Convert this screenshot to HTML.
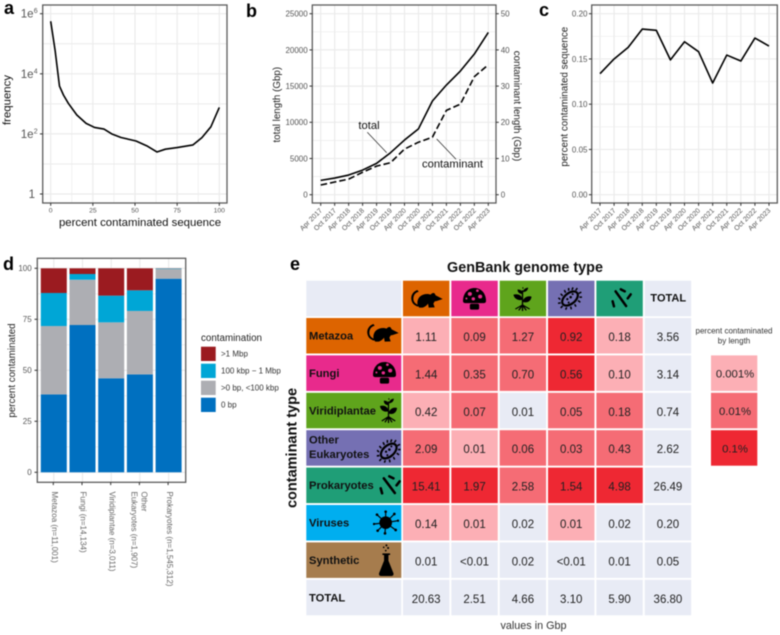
<!DOCTYPE html>
<html lang="en">
<head>
<meta charset="utf-8">
<title>Contamination in GenBank genomes</title>
<style>
html,body{margin:0;padding:0;background:#fff;width:780px;height:635px;overflow:hidden}
svg{display:block;font-family:"Liberation Sans",Arial,sans-serif;filter:blur(.4px)}
</style>
</head>
<body>
<svg id="figure" xmlns="http://www.w3.org/2000/svg" width="780" height="635" viewBox="0 0 780 635">
<defs>
<symbol id="icon-mouse" viewBox="0 0 96 57" preserveAspectRatio="none">
<path d="M20 3C6 8 0 20 2 32C4 44 12 50 22 53L24 48C14 45 8 38 8 30C8 18 14 11 24 8Z"/>
<path d="M20 42C20 24 34 14 52 15L60 17C62 12 70 10 72 14L75 19L96 30L78 36L72 37L68 44L72 55L54 56L52 44C48 50 42 54 36 56L26 56C22 52 20 48 20 42Z"/>
</symbol>
<symbol id="icon-mushroom" viewBox="0 0 67 67" preserveAspectRatio="none">
<path d="M0 40C0 15 15 0 33.5 0C52 0 67 15 67 40C67 44 64 46 60 46L7 46C3 46 0 44 0 40Z"/>
<rect x="20" y="48" width="27" height="18" rx="5"/>
<g fill="#e82a8c" class="dots"><circle cx="20" cy="18" r="6"/><circle cx="42" cy="8" r="4"/><circle cx="50" cy="26" r="6"/><circle cx="30" cy="33" r="5"/><circle cx="10" cy="32" r="3"/></g>
</symbol>
<symbol id="icon-plant" viewBox="0 0 48 75" preserveAspectRatio="none">
<path d="M24 40C12 44 1 36 0 24C12 20 23 26 24 40Z"/>
<path d="M24 46C26 34 38 26 48 30C47 44 36 52 24 46Z"/>
<path d="M24 22C15 22 10 15 11 8C19 7 25 13 24 22Z"/>
<path d="M25 16C26 8 31 3 39 2C39 10 33 16 25 16Z"/>
<path d="M25 6C23 4 23 2 25 0C27 2 28 4 25 6Z"/>
<path d="M24 10V56M24 56L5 69M24 56L14 73M24 56V75M24 56L34 73M24 56L43 69" fill="none" stroke="#000" stroke-width="3.6"/>
</symbol>
<symbol id="icon-microbe" viewBox="0 0 72 68" preserveAspectRatio="none">
<ellipse cx="36" cy="34" rx="27" ry="16" transform="rotate(-38 36 34)" fill="none" stroke="#000" stroke-width="6.5"/>
<circle cx="28" cy="36" r="3.4"/><circle cx="38" cy="30" r="3.8"/><circle cx="44" cy="21" r="3"/><circle cx="32" cy="46" r="3"/>
<path d="M42 9L45 1M53 10L58 3M62 19L70 15M64 30L72 30M60 40L67 45M50 51L54 58M38 58L40 66M26 60L23 67M14 56L8 62M8 47L0 48M7 37L1 32M14 26L8 20M23 17L19 9M32 11L32 3" stroke="#000" stroke-width="4.5" fill="none"/>
</symbol>
<symbol id="icon-bacteria" viewBox="0 0 64 60" preserveAspectRatio="none">
<path d="M14 10L46 54M30 4L42 10M51 31L60 19M5 40L9 55" stroke="#000" stroke-width="7.5" stroke-linecap="round" fill="none"/>
</symbol>
<symbol id="icon-virus" viewBox="0 0 78 75" preserveAspectRatio="none">
<circle cx="38" cy="38" r="19"/>
<path d="M38 38L38 5M38 38L64 12M38 38L75 32M38 38L68 60M38 38L36 70M38 38L14 62M38 38L3 42M38 38L12 14" stroke="#000" stroke-width="3.4" fill="none"/>
<circle cx="38" cy="5" r="4"/><circle cx="64" cy="12" r="4"/><circle cx="75" cy="32" r="3.5"/><circle cx="68" cy="60" r="4"/><circle cx="36" cy="70" r="4"/><circle cx="14" cy="62" r="4"/><circle cx="3" cy="42" r="3.5"/><circle cx="12" cy="14" r="4"/>
</symbol>
<symbol id="icon-flask" viewBox="0 0 43 96" preserveAspectRatio="none">
<circle cx="22" cy="4" r="3"/><circle cx="14" cy="10" r="2.5"/><circle cx="27" cy="12" r="3"/><circle cx="20" cy="20" r="2.6"/>
<rect x="10" y="28" width="23" height="5" rx="1.5"/>
<path d="M15 33H28V50L43 88C44 93 41 96 37 96H6C2 96 -1 93 0 88L15 50Z"/>
</symbol>
</defs>

<g id="panel-a"></g>
<g id="panel-b"></g>
<g id="panel-c"></g>
<g id="panel-d"></g>
<g id="panel-e"></g>

<g font-size="18" font-weight="bold" fill="#000">
<text x="4" y="14">a</text>
<text x="246" y="17">b</text>
<text x="539" y="16">c</text>
<text x="3" y="270">d</text>
<text x="290" y="270">e</text>
</g>

<g>
<use href="#icon-mouse" x="410.7" y="289" width="32" height="19"/>
<use href="#icon-mushroom" x="463" y="288" width="23" height="22"/>
<use href="#icon-plant" x="513.5" y="287" width="18" height="24"/>
<use href="#icon-microbe" x="558" y="287" width="24" height="23"/>
<use href="#icon-bacteria" x="611" y="288" width="21" height="20"/>
<use href="#icon-mouse" x="366.7" y="323" width="32" height="19"/>
<use href="#icon-mushroom" x="373" y="362" width="23" height="22"/>
<use href="#icon-plant" x="380" y="398" width="17" height="25"/>
<use href="#icon-microbe" x="376.7" y="439" width="24" height="24"/>
<use href="#icon-bacteria" x="379" y="475" width="22" height="20"/>
<use href="#icon-virus" x="373" y="510" width="26" height="25"/>
<use href="#icon-flask" x="379" y="544" width="14.5" height="32"/>
</g>
</svg>

<script>
// ---- panel a data ----
const aPercent = [0,2.6,5.2,7.6,10.5,15.5,21,26,31.6,36.5,41.7,50.6,57,63,68,75,84.4,89.7,95,100];
const aFrequency = [562000,61000,3900,1950,1030,425,224,164,145,98,76,58,40,25,31,35,43,75,172,760];
const aXTicks = [0,25,50,75,100];
const aYTickExponents = [0,2,4,6];

// ---- panels b, c data ----
const dateLabels = ["Apr 2017","Oct 2017","Apr 2018","Oct 2018","Apr 2019","Oct 2019","Apr 2020","Oct 2020","Apr 2021","Oct 2021","Apr 2022","Oct 2022","Apr 2023"];
const bTotal = [1980,2300,2715,3400,4330,5800,7550,9100,12940,15150,17080,19430,22420];
const bContaminant = [2.67,3.5,4.3,6.2,7.9,8.84,12.6,14.5,15.9,23.3,25,32.6,35.9];
const bLeftTicks = [0,5000,10000,15000,20000,25000];
const bRightTicks = [0,10,20,30,40,50];
const cPercent = [0.1337,0.150,0.1628,0.183,0.1816,0.149,0.169,0.158,0.1234,0.1543,0.1477,0.1731,0.1643];
const cTicks = [0,0.05,0.10,0.15,0.20];

// ---- panel d data ----
const dCategories = [["Metazoa (n=11,001)"],["Fungi (n=14,134)"],["Viridiplantae (n=3,011)"],["Other","Eukaryotes (n=1,907)"],["Prokaryotes (n=1,545,312)"]];
const dSeriesNames = ["0 bp",">0 bp, <100 kbp","100 kbp − 1 Mbp",">1 Mbp"];
const d0bp = [38.2,72.2,46.1,48,94.9];
const dUnder100k = [33.5,22.2,27.4,31.1,4.8];
const d100kTo1M = [16.2,2.8,13.1,10.1,0.2];
const dOver1M = [12.1,2.8,13.4,10.8,0.1];
const dTicks = [0,25,50,75,100];

// ---- panel e data ----
const eRows = [["Metazoa"],["Fungi"],["Viridiplantae"],["Other","Eukaryotes"],["Prokaryotes"],["Viruses"],["Synthetic"],["TOTAL"]];
const eValues = [
  ["1.11","0.09","1.27","0.92","0.18","3.56"],
  ["1.44","0.35","0.70","0.56","0.10","3.14"],
  ["0.42","0.07","0.01","0.05","0.18","0.74"],
  ["2.09","0.01","0.06","0.03","0.43","2.62"],
  ["15.41","1.97","2.58","1.54","4.98","26.49"],
  ["0.14","0.01","0.02","0.01","0.02","0.20"],
  ["0.01","<0.01","0.02","<0.01","0.01","0.05"],
  ["20.63","2.51","4.66","3.10","5.90","36.80"]
];
const eLevels = [
  [1,2,2,3,1,0],
  [2,2,2,3,1,0],
  [1,2,0,2,2,0],
  [2,1,2,2,2,0],
  [3,3,2,3,3,0],
  [1,1,0,1,0,0],
  [0,0,0,0,0,0],
  [0,0,0,0,0,0]
];
const eLegendLabels = ["0.001%","0.01%","0.1%"];
const eLegendLevels = [1,2,3];

const SVGNS = "http://www.w3.org/2000/svg";
const GRID = "#ebebeb", BORDER = "#5c5c5c", TICKTXT = "#555", TICK = "#333";

function add(parent, tag, attrs, text) {
  const el = document.createElementNS(SVGNS, tag);
  for (const k in attrs) el.setAttribute(k, attrs[k]);
  if (text !== undefined) el.textContent = text;
  parent.appendChild(el);
  return el;
}
function hline(g, x0, x1, y, w, color) {
  const el = add(g, "line", {x1:x0, x2:x1, y1:y, y2:y, stroke:color, "stroke-width":w});
  
  
  return el;
}
function vline(g, x, y0, y1, w, color) {
  const el = add(g, "line", {x1:x, x2:x, y1:y0, y2:y1, stroke:color, "stroke-width":w});
  
  
  return el;
}
function frame(g, x0, y0, x1, y1) {
  const el = add(g, "rect", {x:x0, y:y0, width:x1-x0, height:y1-y0, fill:"none", stroke:BORDER, "stroke-width":1.3});
  
  
}
function label(g, x, y, str, size, anchor, color, rotate, name) {
  const attrs = {x:x, y:y, "font-size":size, "text-anchor":anchor, fill:color};
  if (rotate) attrs.transform = "rotate(" + rotate + " " + x + " " + y + ")";
  const el = add(g, "text", attrs, str);
  
  
  return el;
}
function linePath(xs, ys) {
  return xs.map((v, i) => (i ? "L" : "M") + v.toFixed(2) + " " + ys[i].toFixed(2)).join("");
}
function series(g, d, dash, name) {
  const attrs = {d:d, fill:"none", stroke:"#000", "stroke-width":1.6, "stroke-linejoin":"round"};
  if (dash) attrs["stroke-dasharray"] = dash;
  const el = add(g, "path", attrs);
  
  
}

// ========== Panel a ==========
(function () {
  const g = document.getElementById("panel-a");
  const L = 42.7, R = 227, T = 5, B = 203;
  const x = v => 50.7 + v * (219.3 - 50.7) / 100;
  const y = v => 194 - Math.log10(v) * 30.05;
  for (let i = 0; i < aXTicks.length - 1; i++) vline(g, x((aXTicks[i] + aXTicks[i + 1]) / 2), T, B, .7, GRID);
  for (let e = 1; e <= 5; e += 2) hline(g, L, R, y(Math.pow(10, e)), 1.0, GRID);
  aXTicks.forEach(t => vline(g, x(t), T, B, 1.2, GRID));
  aYTickExponents.forEach(e => hline(g, L, R, y(Math.pow(10, e)), 1.2, GRID));
  series(g, linePath(aPercent.map(x), aFrequency.map(y)), null, "frequency-line");
  frame(g, L, T, R, B);
  aXTicks.forEach(t => {
    vline(g, x(t), B, B + 2.8, 1, TICK);
    label(g, x(t), B + 9.5, String(t), 6.8, "middle", TICKTXT, 0, "x-tick-label");
  });
  aYTickExponents.forEach(e => {
    const py = y(Math.pow(10, e));
    hline(g, L - 2.8, L, py, 1, TICK);
    if (e === 0) {
      label(g, 35, py + 4, "1", 11.5, "end", TICKTXT, 0, "y-tick-label");
    } else {
      label(g, 33.5, py + 4, "1e", 11.5, "end", TICKTXT, 0, "y-tick-label");
      label(g, 33.7, py - 0.5, String(e), 7, "start", TICKTXT, 0, "y-tick-exponent");
    }
  });
  label(g, 140, 226, "percent contaminated sequence", 11.4, "middle", "#111", 0, "x-axis-title");
  label(g, 10.7, 100, "frequency", 11.4, "middle", "#111", -90, "y-axis-title");
})();

// ========== date x axis shared by b, c ==========
function dateAxis(g, x, B) {
  dateLabels.forEach((d, i) => {
    vline(g, x(i), B, B + 2.8, 1, TICK);
    label(g, x(i) + 2, B + 8, d, 7, "end", TICKTXT, -45, "date-tick-label");
  });
}

// ========== Panel b ==========
(function () {
  const g = document.getElementById("panel-b");
  const L = 312.3, R = 496, T = 5, B = 203;
  const x = i => 320.7 + i * (488.3 - 320.7) / (dateLabels.length - 1);
  const yL = v => 194.7 - v * (194.7 - 13.7) / 25000;
  const yR = v => 194.7 - v * (194.7 - 13.7) / 50;
  for (let i = 0; i < bLeftTicks.length; i++) hline(g, L, R, yL(bLeftTicks[i] + 2500), .7, GRID);
  bLeftTicks.forEach(t => hline(g, L, R, yL(t), 1.2, GRID));
  dateLabels.forEach((d, i) => vline(g, x(i), T, B, 1.2, GRID));
  series(g, linePath(dateLabels.map((d, i) => x(i)), bTotal.map(yL)), null, "total-length-line");
  series(g, linePath(dateLabels.map((d, i) => x(i)), bContaminant.map(yR)), "6.5 3", "contaminant-length-line");
  frame(g, L, T, R, B);
  dateAxis(g, x, B);
  bLeftTicks.forEach(t => {
    hline(g, L - 2.8, L, yL(t), 1, TICK);
    label(g, 307.7, yL(t) + 2.9, String(t), 8, "end", TICKTXT, 0, "left-y-tick-label");
  });
  bRightTicks.forEach(t => {
    hline(g, R, R + 2.8, yR(t), 1, TICK);
    label(g, 500.7, yR(t) + 2.9, String(t), 8, "start", TICKTXT, 0, "right-y-tick-label");
  });
  label(g, 280, 104.7, "total length (Gbp)", 9.8, "middle", "#222", -90, "left-y-axis-title");
  label(g, 514, 106, "contaminant length (Gbp)", 9.8, "middle", "#222", 90, "right-y-axis-title");
  label(g, 369, 129, "total", 11.2, "middle", "#111", 0, "total-annotation");
  label(g, 452.5, 167.7, "contaminant", 11.2, "middle", "#111", 0, "contaminant-annotation");
  const a1 = add(g, "line", {x1:367.3, y1:132.3, x2:386.7, y2:152.7, stroke:"#222", "stroke-width":.7});
  
  
  const a2 = add(g, "line", {x1:436.7, y1:139, x2:456, y2:159.3, stroke:"#222", "stroke-width":.7});
  
  
})();

// ========== Panel c ==========
(function () {
  const g = document.getElementById("panel-c");
  const L = 591.7, R = 777.3, T = 5, B = 203;
  const x = i => 600 + i * (769 - 600) / (dateLabels.length - 1);
  const y = v => 194.7 - v * (194.7 - 13.7) / 0.2;
  for (let i = 0; i < cTicks.length - 1; i++) hline(g, L, R, y((cTicks[i] + cTicks[i + 1]) / 2), .7, GRID);
  cTicks.forEach(t => hline(g, L, R, y(t), 1.2, GRID));
  dateLabels.forEach((d, i) => vline(g, x(i), T, B, 1.2, GRID));
  series(g, linePath(dateLabels.map((d, i) => x(i)), cPercent.map(y)), null, "percent-contaminated-line");
  frame(g, L, T, R, B);
  dateAxis(g, x, B);
  cTicks.forEach(t => {
    hline(g, L - 2.8, L, y(t), 1, TICK);
    label(g, 587.5, y(t) + 2.9, t.toFixed(2), 8, "end", TICKTXT, 0, "y-tick-label");
  });
  label(g, 567.3, 96.7, "percent contaminated sequence", 9.84, "middle", "#222", -90, "y-axis-title");
})();

// ========== Panel d ==========
(function () {
  const g = document.getElementById("panel-d");
  const L = 37.3, R = 185.7, T = 258.3, B = 482.3;
  const x = i => 53.8 + i * 28.7;
  const y = v => 472.3 - v * (472.3 - 268.3) / 100;
  const colors = ["#0070c0", "#adaeb3", "#00a6d6", "#9b1b20"];
  const stacks = [d0bp, dUnder100k, d100kTo1M, dOver1M];
  for (let i = 0; i < dTicks.length - 1; i++) hline(g, L, R, y((dTicks[i] + dTicks[i + 1]) / 2), .7, GRID);
  dTicks.forEach(t => hline(g, L, R, y(t), 1.2, GRID));
  dCategories.forEach((c, i) => vline(g, x(i), T, B, 1.2, GRID));
  dCategories.forEach((c, i) => {
    let base = 0;
    stacks.forEach((s, k) => {
      const bar = add(g, "rect", {x:x(i) - 13, y:y(base + s[i]), width:26, height:y(base) - y(base + s[i]), fill:colors[k]});
      
      
      base += s[i];
    });
  });
  frame(g, L, T, R, B);
  dTicks.forEach(t => {
    hline(g, L - 2.8, L, y(t), 1, TICK);
    label(g, 31.7, y(t) + 2.9, String(t), 8, "end", TICKTXT, 0, "y-tick-label");
  });
  dCategories.forEach((c, i) => {
    vline(g, x(i) - .5, B, B + 2.8, 1, TICK);
    if (c.length === 1) {
      label(g, x(i) - 1.8, 491.5, c[0], 8, "start", "#666", 90, "category-label");
    } else {
      label(g, x(i) + 1.7, 491.5, c[0], 8, "start", "#666", 90, "category-label-line-1");
      label(g, x(i) - 8.3, 491.5, c[1], 8, "start", "#666", 90, "category-label-line-2");
    }
  });
  label(g, 15, 370.5, "percent contaminated", 9.8, "middle", "#222", -90, "y-axis-title");
  // legend
  label(g, 201, 341, "contamination", 9.8, "start", "#222", 0, "legend-title");
  [3, 2, 1, 0].forEach((k, row) => {
    const ky = 346.7 + row * 17;
    const sw = add(g, "rect", {x:201, y:ky, width:14.7, height:14.3, fill:colors[k]});
    
    
  });
  [">1 Mbp", "100 kbp − 1 Mbp", ">0 bp, <100 kbp", "0 bp"].forEach((s, row) => {
    label(g, 221, 356.7 + row * 17, s, 8, "start", "#333", 0, "legend-label");
  });
})();

// ========== Panel e ==========
(function () {
  const g = document.getElementById("panel-e");
  const colLeft = c => 403 + c * 48.35;
  const COLW = 46.4;
  const rowTop = r => 318 + r * 37.4;
  const ROWH = 35.5;
  const fills = ["#e8ebf5", "#fcafb5", "#f56c75", "#ee2833"];
  const rowFills = ["#dd6400", "#e82a8c", "#5fa41c", "#7570b3", "#1f9e77", "#00aeef", "#a67c4d", "#e8ebf5"];
  const headFills = ["#dd6400", "#e82a8c", "#5fa41c", "#7570b3", "#1f9e77", "#e8ebf5"];

  label(g, 525, 272, "GenBank genome type", 14.4, "middle", "#111", 0, "heatmap-title").setAttribute("font-weight", "bold");
  label(g, 296.7, 448, "contaminant type", 14.5, "middle", "#111", -90, "heatmap-row-title").setAttribute("font-weight", "bold");
  label(g, 533.5, 629, "values in Gbp", 10.8, "middle", "#333", 0, "units-note");

  const corner = add(g, "rect", {x:306.3, y:280.7, width:95, height:35.6, fill:"#e8ebf5"});
  
  

  headFills.forEach((f, c) => {
    const h = add(g, "rect", {x:colLeft(c), y:280.7, width:COLW, height:35.6, fill:f});
    
    
  });
  label(g, colLeft(5) + 23.5, 301.7, "TOTAL", 11, "middle", "#111", 0, "total-column-header").setAttribute("font-weight", "bold");

  eRows.forEach((names, r) => {
    const head = add(g, "rect", {x:306.3, y:rowTop(r), width:95, height:ROWH, fill:rowFills[r]});
    
    
    if (names.length === 1) {
      label(g, 309, rowTop(r) + 21.5, names[0], 11.2, "start", "#111", 0, "row-label").setAttribute("font-weight", "bold");
    } else {
      label(g, 309, rowTop(r) + 13.5, names[0], 11.2, "start", "#111", 0, "row-label-line-1").setAttribute("font-weight", "bold");
      label(g, 309, rowTop(r) + 28, names[1], 11.2, "start", "#111", 0, "row-label-line-2").setAttribute("font-weight", "bold");
    }
    eValues[r].forEach((v, c) => {
      const cell = add(g, "rect", {x:colLeft(c), y:rowTop(r), width:COLW, height:ROWH, fill:fills[eLevels[r][c]]});
      
      
      label(g, colLeft(c) + COLW / 2, rowTop(r) + ROWH / 2 + 5.2, v, 11.5, "middle", "#222", 0, "heatmap-value");
    });
  });

  label(g, 734, 333.5, "percent contaminated", 8, "middle", "#333", 0, "scale-title-line-1");
  label(g, 734, 343.5, "by length", 8, "middle", "#333", 0, "scale-title-line-2");
  eLegendLabels.forEach((s, i) => {
    const top = rowTop(i + 1);
    const sw = add(g, "rect", {x:711, y:top, width:46.3, height:ROWH, fill:fills[eLegendLevels[i]]});
    
    
    label(g, 735, top + ROWH / 2 + 4.3, s, 11.3, "middle", "#222", 0, "scale-label");
  });
})();
</script>
</body>
</html>
